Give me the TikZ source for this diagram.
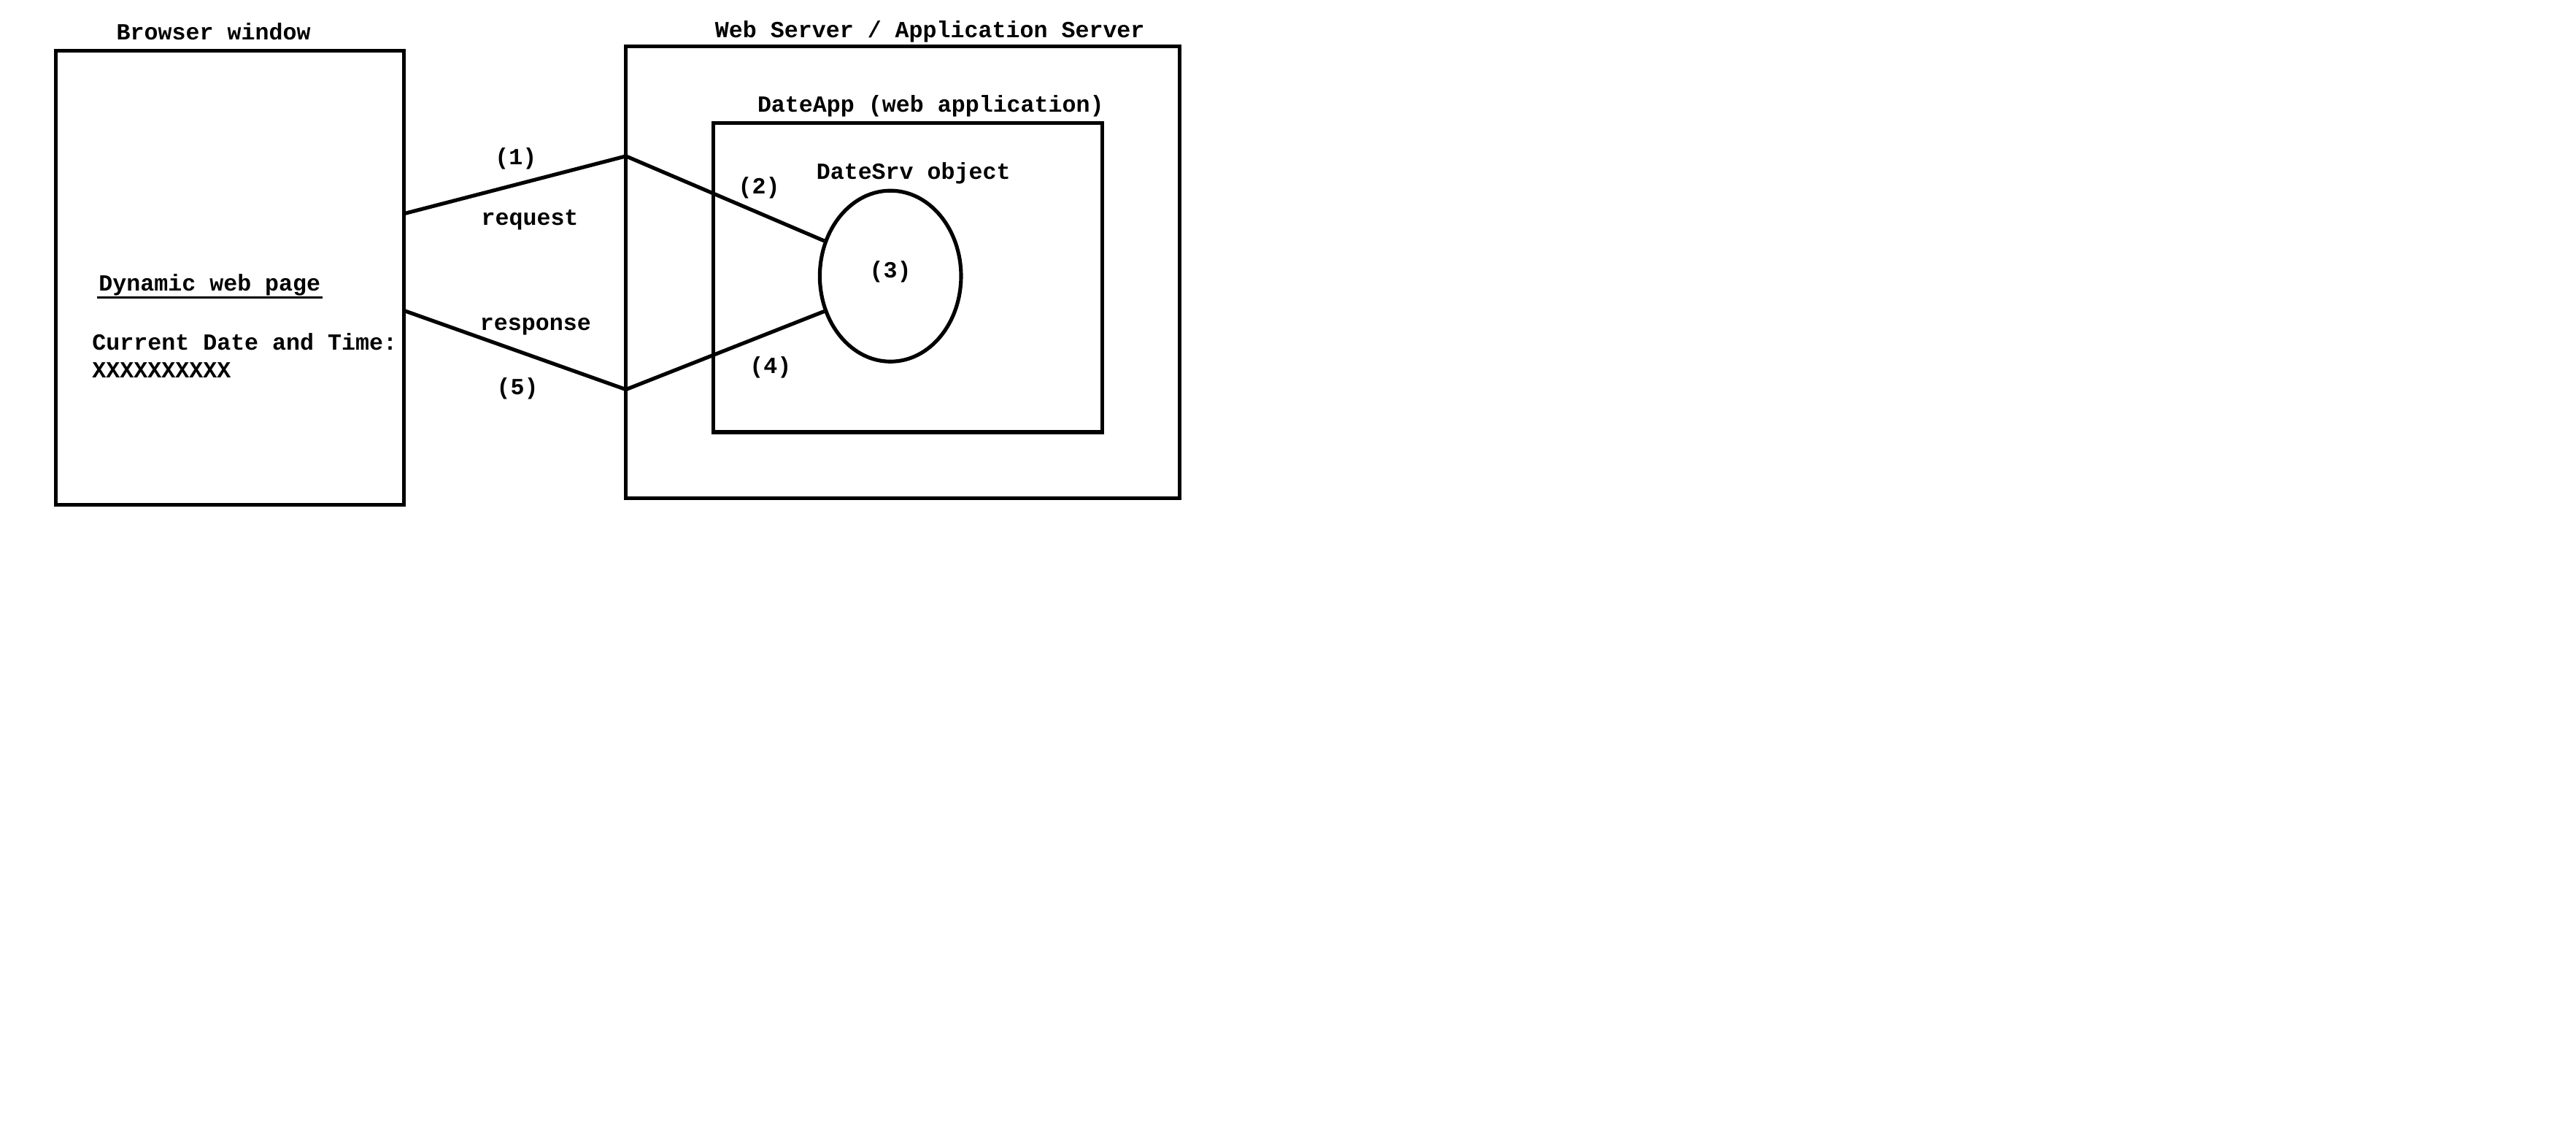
\documentclass[tikz,border=0pt]{standalone}
\usepackage{fontspec}
\setmainfont{Liberation Mono}
\usetikzlibrary{shapes.geometric}

\begin{document}
\begin{tikzpicture}
    [x=0.02cm,y=-0.02cm,line width=1.3pt,
     every node/.style={font=\fontsize{8}{9.6}\selectfont\bfseries,inner sep=0pt},
     box/.style={draw,rectangle},
     lbl/.style={anchor=base}]
    \useasboundingbox (0,0) rectangle (1568,694);

    \node[box,minimum width=4.24cm,minimum height=5.52cm] (browser) at (140,169) {};
    \node[box,minimum width=6.74cm,minimum height=5.5cm] (server) at (549.5,165.5) {};
    \node[box,minimum width=4.74cm,minimum height=3.76cm] (dateapp) at (552.5,169) {};
    \node[draw,ellipse,minimum width=1.72cm,minimum height=2.08cm] (datesrv) at (542,168) {};

    \node[lbl] (browsertitle) at (130,24) {Browser window};
    \node[lbl] (servertitle) at (566,23) {Web Server / Application Server};
    \node[lbl] (dateapptitle) at (566.5,68) {DateApp (web application)};
    \node[lbl] (datesrvtitle) at (556,109) {DateSrv object};
    \node[lbl] (step3) at (542,169) {(3)};
    \node[lbl,anchor=base west] (pagetitle) at (59,177) {Dynamic web page};
    \draw[line width=0.8pt] ([yshift=-2.3pt]pagetitle.base west) -- ([yshift=-2.3pt]pagetitle.base east);
    \node[anchor=base west,align=left] (pagebody) at (55,230) {Current Date and Time:\\XXXXXXXXXX};

    \coordinate (reqstart) at (246,130);
    \coordinate (reqmid) at (381,95);
    \coordinate (resstart) at (246,189);
    \coordinate (resmid) at (381,237);

    \draw (reqstart) -- (reqmid) -- (datesrv.152);
    \draw (resstart) -- (resmid) -- (datesrv.208);

    \node[lbl] (step1) at (314,100) {(1)};
    \node[lbl] (request) at (322.5,137) {request};
    \node[lbl] (response) at (326,201) {response};
    \node[lbl] (step5) at (315,240) {(5)};
    \node[lbl] (step2) at (462,118) {(2)};
    \node[lbl] (step4) at (469,227) {(4)};
\end{tikzpicture}
\end{document}
